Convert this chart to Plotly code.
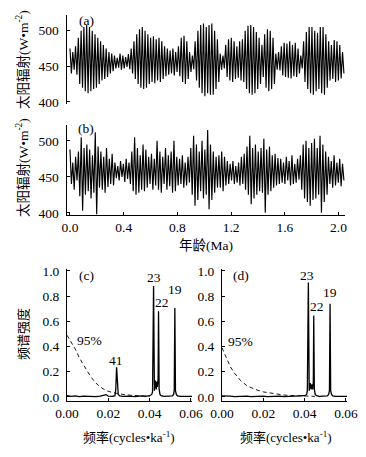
import numpy as np
import plotly.graph_objects as go

# ---- Panel (a): insolation, alternating peak / trough values (W m-2)
insol_a = [
    475, 440, 470, 445, 478, 438,
    490, 425, 500, 420, 505, 415, 508, 412, 505, 415, 500, 418, 495, 420, 490, 425,
    485, 430, 480, 432, 475, 435, 470, 440, 468, 443,
    465, 447, 462, 448, 468, 445, 465, 447, 463, 449, 467, 446,
    475, 440, 485, 432, 495, 425, 502, 420, 505, 418, 500, 420,
    495, 425, 490, 428, 492, 426, 488, 430, 490, 428, 485, 432, 478, 436, 475, 438,
    472, 440, 475, 437, 470, 442, 478, 436,
    490, 428, 493, 425, 485, 432,
    470, 442, 465, 446,
    485, 430, 500, 420, 508, 412, 510, 408, 505, 412, 508, 410, 510, 410, 500, 418, 488, 428,
    468, 445, 465, 447,
    480, 435, 488, 430, 490, 428, 485, 432, 478, 434, 485, 430, 488, 428,
    500, 418, 507, 412, 508, 410, 505, 412, 498, 418, 490, 425, 480, 435,
    495, 420, 502, 415, 500, 418, 490, 425,
    468, 445, 470, 444,
    478, 437, 483, 435, 482, 434, 485, 433, 480, 436, 483, 435, 475, 440,
    465, 447,
    485, 428, 498, 418, 505, 412, 505, 410, 500, 415, 497, 418, 505, 412, 505, 410, 495, 420, 485, 430,
    480, 432, 487, 428, 485, 430, 480, 433, 470, 440,
]

# ---- Panel (b): insolation, alternating peak / trough values (W m-2)
insol_b = [
    488, 440, 470, 432, 478, 445,
    485, 423, 505, 403, 490, 425,
    495, 430, 488, 420, 480, 428, 512, 398, 492, 435,
    485, 432, 478, 428, 490, 436, 475, 440, 482, 438,
    470, 448, 465, 445, 472, 450, 468, 443, 475, 447, 470, 440,
    485, 430, 505, 425, 490, 428, 480, 432, 495, 430, 488, 435,
    478, 440, 482, 432, 475, 438, 500, 432, 485, 428, 478, 440,
    490, 432, 480, 437, 485, 428, 500, 430, 478, 438,
    475, 440, 480, 435, 470, 438, 478, 442,
    490, 425, 507, 410, 495, 418, 485, 430, 500, 420,
    488, 425, 515, 405, 495, 418, 485, 428, 478, 435,
    480, 435, 485, 430, 478, 438, 472, 440,
    468, 445, 472, 440, 465, 442, 470, 438, 478, 440, 482, 432,
    492, 425, 507, 412, 490, 420, 495, 425, 485, 430,
    490, 428, 503, 400, 488, 425, 492, 430, 480, 435,
    482, 438, 476, 440,
    475, 442, 470, 440, 478, 445, 472, 438, 480, 440, 468, 442, 475, 446,
    480, 432, 495, 420, 500, 415, 490, 410, 497, 418, 503, 420, 490, 425, 507, 400, 495, 415, 485, 425,
    478, 440, 472, 435, 480, 438, 470, 442, 475, 437, 468, 445,
]

age_end = 2.04  # Ma, last sample
age_a = np.linspace(0.0, age_end, len(insol_a))
age_b = np.linspace(0.0, age_end, len(insol_b))

age_ticks = [0.0, 0.4, 0.8, 1.2, 1.6, 2.0]
age_ticklabels = ["0.0", "0.4", "0.8", "1.2", "1.6", "2.0"]
insol_ticks = [400, 450, 500]

# ---- Panel (c): power spectrum of (a)
freq_c = [0.000, 0.002, 0.004, 0.006, 0.008, 0.010, 0.012, 0.014, 0.016, 0.018,
          0.019, 0.020, 0.022, 0.0232, 0.0236, 0.0240, 0.0244, 0.0248, 0.0255, 0.027,
          0.030, 0.033, 0.036, 0.038, 0.040, 0.041, 0.0414, 0.0419, 0.0423, 0.0428,
          0.0432, 0.0435, 0.0438, 0.0441, 0.0443, 0.0446, 0.0450, 0.0455, 0.047, 0.049,
          0.051, 0.0516, 0.0519, 0.0522, 0.0525, 0.0529, 0.0535, 0.055, 0.057, 0.0605]
power_c = [0.010, 0.004, 0.008, 0.003, 0.006, 0.004, 0.007, 0.003, 0.006, 0.012,
           0.018, 0.006, 0.004, 0.010, 0.060, 0.235, 0.060, 0.020, 0.008, 0.004,
           0.006, 0.003, 0.008, 0.005, 0.010, 0.020, 0.040, 0.880, 0.050, 0.130,
           0.060, 0.120, 0.080, 0.150, 0.680, 0.060, 0.020, 0.010, 0.004, 0.006,
           0.008, 0.020, 0.050, 0.705, 0.050, 0.020, 0.008, 0.004, 0.006, 0.004]
conf_freq_c = [0.000, 0.002, 0.004, 0.006, 0.008, 0.010, 0.012, 0.014, 0.016, 0.019,
               0.022, 0.025, 0.028, 0.032, 0.036, 0.040]
conf_c = [0.49, 0.44, 0.38, 0.31, 0.25, 0.20, 0.15, 0.11, 0.08, 0.05,
          0.035, 0.025, 0.018, 0.012, 0.008, 0.006]

# ---- Panel (d): power spectrum of (b)
freq_d = [0.000, 0.002, 0.004, 0.006, 0.008, 0.010, 0.012, 0.014, 0.016, 0.018,
          0.020, 0.022, 0.024, 0.026, 0.028, 0.030, 0.033, 0.036, 0.038, 0.040,
          0.041, 0.0413, 0.0418, 0.0422, 0.0427, 0.0431, 0.0435, 0.0439, 0.0442, 0.0444,
          0.0447, 0.0451, 0.0458, 0.047, 0.049, 0.051, 0.0516, 0.0520, 0.0523, 0.0526,
          0.0530, 0.0536, 0.055, 0.057, 0.0605]
power_d = [0.008, 0.004, 0.006, 0.003, 0.005, 0.004, 0.006, 0.003, 0.005, 0.004,
           0.006, 0.003, 0.005, 0.004, 0.006, 0.003, 0.005, 0.004, 0.006, 0.010,
           0.020, 0.050, 0.907, 0.050, 0.110, 0.060, 0.100, 0.060, 0.120, 0.646,
           0.060, 0.020, 0.010, 0.004, 0.006, 0.008, 0.020, 0.050, 0.739, 0.050,
           0.020, 0.008, 0.004, 0.006, 0.004]
conf_freq_d = [0.000, 0.002, 0.004, 0.006, 0.009, 0.012, 0.016, 0.020, 0.025, 0.030,
               0.036, 0.042, 0.045]
conf_d = [0.39, 0.31, 0.24, 0.19, 0.13, 0.09, 0.06, 0.04, 0.025, 0.015,
          0.010, 0.006, 0.005]

freq_ticks = [0.00, 0.02, 0.04, 0.06]
freq_ticklabels = ["0.00", "0.02", "0.04", "0.06"]
power_ticks = [0.0, 0.2, 0.4, 0.6, 0.8, 1.0]
power_ticklabels = ["0.0", "0.2", "0.4", "0.6", "0.8", "1.0"]

peak_labels_c = ["41", "23", "22", "19"]
peak_pos_c = [(0.0237, 0.29), (0.0420, 0.945), (0.0462, 0.75), (0.0524, 0.85)]
peak_labels_d = ["23", "22", "19"]
peak_pos_d = [(0.0412, 0.96), (0.0458, 0.72), (0.0523, 0.83)]

W, H = 366, 457
FONT = "Liberation Serif, Times New Roman, Noto Sans CJK SC, serif"
CJK = "Liberation Serif, Noto Sans CJK SC, serif"


def px_x(p):
    return p / W


def px_y(p):
    return 1 - p / H


fig = go.Figure()
line_ts = dict(color="black", width=1.15)
fig.add_trace(go.Scatter(x=age_a, y=insol_a, mode="lines", line=line_ts,
                         xaxis="x", yaxis="y", showlegend=False))
fig.add_trace(go.Scatter(x=age_b, y=insol_b, mode="lines", line=line_ts,
                         xaxis="x2", yaxis="y2", showlegend=False))
fig.add_trace(go.Scatter(x=freq_c, y=power_c, mode="lines", line=dict(color="black", width=1.3),
                         xaxis="x3", yaxis="y3", showlegend=False))
fig.add_trace(go.Scatter(x=conf_freq_c, y=conf_c, mode="lines",
                         line=dict(color="black", width=0.9, dash="4px,3px"),
                         xaxis="x3", yaxis="y3", showlegend=False))
fig.add_trace(go.Scatter(x=freq_d, y=power_d, mode="lines", line=dict(color="black", width=1.3),
                         xaxis="x4", yaxis="y4", showlegend=False))
fig.add_trace(go.Scatter(x=conf_freq_d, y=conf_d, mode="lines",
                         line=dict(color="black", width=0.9, dash="4px,3px"),
                         xaxis="x4", yaxis="y4", showlegend=False))

tickfont = dict(family=FONT, size=13.5, color="black")
common_axis = dict(showgrid=False, zeroline=False, linecolor="black", linewidth=1,
                   ticks="inside", ticklen=3, tickcolor="black", tickfont=tickfont,
                   automargin=False)

ts_xdom = [px_x(66.5), px_x(345)]
ts_xrange = [-0.026, 2.048]
ts_yrange = [397, 522]

fig.update_layout(
    width=W, height=H, autosize=False,
    margin=dict(l=0, r=0, t=0, b=0, pad=0, autoexpand=False),
    paper_bgcolor="white", plot_bgcolor="white",
    font=dict(family=FONT, size=12, color="black"),
    hovermode=False,
    xaxis=dict(domain=ts_xdom, range=ts_xrange, anchor="y", visible=False, automargin=False),
    yaxis=dict(domain=[px_y(104), px_y(15)], range=ts_yrange, anchor="x",
               showline=True, tickvals=insol_ticks, ticklabelstandoff=4, **common_axis),
    xaxis2=dict(domain=ts_xdom, range=ts_xrange, anchor="y2", showline=True,
                tickvals=age_ticks, ticktext=age_ticklabels, **common_axis),
    yaxis2=dict(domain=[px_y(215), px_y(125)], range=ts_yrange, anchor="x2",
                showline=True, tickvals=insol_ticks, ticklabelstandoff=4, **common_axis),
    xaxis3=dict(domain=[px_x(67), px_x(192)], range=[0, 0.0605], anchor="y3", showline=True,
                tickvals=freq_ticks, ticktext=freq_ticklabels, **common_axis),
    yaxis3=dict(domain=[px_y(401), px_y(269)], range=[-0.032, 1.015], anchor="x3", showline=True,
                tickvals=power_ticks, ticktext=power_ticklabels, ticklabelstandoff=4, **common_axis),
    xaxis4=dict(domain=[px_x(222), px_x(347)], range=[0, 0.0605], anchor="y4", showline=True,
                tickvals=freq_ticks, ticktext=freq_ticklabels, **common_axis),
    yaxis4=dict(domain=[px_y(401), px_y(269)], range=[-0.032, 1.015], anchor="x4", showline=True,
                tickvals=power_ticks, ticktext=power_ticklabels, ticklabelstandoff=4, **common_axis),
)

ann = []
lab = dict(family=FONT, size=13.5)
# panel letters
ann.append(dict(x=px_x(77), y=px_y(20), xref="paper", yref="paper", text="(a)",
                showarrow=False, xanchor="left", yanchor="middle", font=lab))
ann.append(dict(x=px_x(76), y=px_y(128), xref="paper", yref="paper", text="(b)",
                showarrow=False, xanchor="left", yanchor="middle", font=lab))
ann.append(dict(x=0.0093, y=0.965, xref="x3", yref="y3", text="(c)",
                showarrow=False, xanchor="center", yanchor="middle", font=lab))
ann.append(dict(x=0.0093, y=0.965, xref="x4", yref="y4", text="(d)",
                showarrow=False, xanchor="center", yanchor="middle", font=lab))
# y titles
for ycen in (60, 168):
    ann.append(dict(x=px_x(22), y=px_y(ycen), xref="paper", yref="paper",
                    text="太阳辐射(W•m<sup>-2</sup>)", textangle=-90, showarrow=False,
                    xanchor="center", yanchor="middle", font=dict(family=CJK, size=13.5)))
ann.append(dict(x=px_x(23), y=px_y(334), xref="paper", yref="paper", text="频谱强度",
                textangle=-90, showarrow=False, xanchor="center", yanchor="middle",
                font=dict(family=CJK, size=13)))
# x titles
ann.append(dict(x=px_x(206), y=px_y(245), xref="paper", yref="paper", text="年龄(Ma)",
                showarrow=False, xanchor="center", yanchor="middle", font=dict(family=CJK, size=13.5)))
for xc in (129, 286):
    ann.append(dict(x=px_x(xc), y=px_y(437), xref="paper", yref="paper",
                    text="频率(cycles•ka<sup>-1</sup>)", showarrow=False,
                    xanchor="center", yanchor="middle", font=dict(family=CJK, size=13)))
# 95% labels
ann.append(dict(x=0.004, y=0.45, xref="x3", yref="y3", text="95%", showarrow=False,
                xanchor="left", yanchor="middle", font=lab))
ann.append(dict(x=0.002, y=0.44, xref="x4", yref="y4", text="95%", showarrow=False,
                xanchor="left", yanchor="middle", font=lab))
for t, (fx, fy) in zip(peak_labels_c, peak_pos_c):
    ann.append(dict(x=fx, y=fy, xref="x3", yref="y3", text=t, showarrow=False,
                    xanchor="center", yanchor="middle", font=lab))
for t, (fx, fy) in zip(peak_labels_d, peak_pos_d):
    ann.append(dict(x=fx, y=fy, xref="x4", yref="y4", text=t, showarrow=False,
                    xanchor="center", yanchor="middle", font=lab))
fig.update_layout(annotations=ann)

fig.write_html("out.html", config={"displayModeBar": False, "staticPlot": True},
               post_script="document.body.style.margin='0';")
